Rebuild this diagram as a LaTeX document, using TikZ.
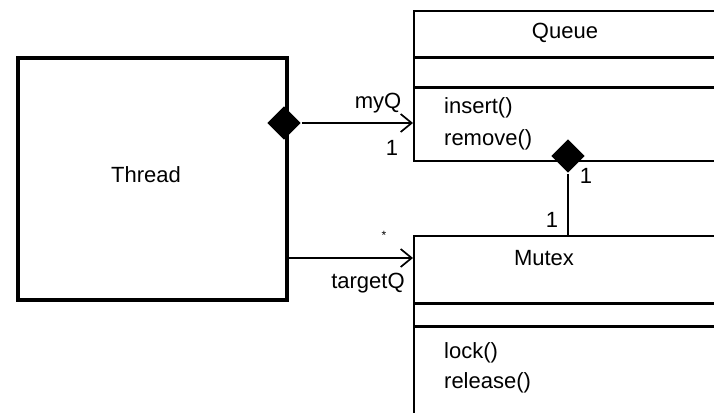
\documentclass[tikz,border=0pt]{standalone}
\usepackage{fontspec}
\setmainfont{Liberation Sans}
\usetikzlibrary{arrows.meta,shapes.geometric,positioning}

\begin{document}
\begin{tikzpicture}[x=1pt,y=-1pt,line width=1.7pt,
  >={Straight Barb[length=11pt,width=18pt,line width=1.7pt]},
  every node/.style={font=\fontsize{22}{26}\selectfont},
  compart/.style={draw,line width=1.7pt,minimum width=330pt,inner sep=0pt,anchor=north west},
  agg/.style={diamond,fill=black,minimum width=34pt,minimum height=34pt,inner sep=0pt}]
  \useasboundingbox (0,0) rectangle (714,412);
  \clip (0,0) rectangle (714,412);
  % --- Thread ---
  \node[draw,line width=4pt,minimum width=269pt,minimum height=242pt,anchor=north west] (thread) at (16,56) {};
  \node (ttext) at (146,175) {Thread};
  % --- Queue ---
  \node[compart,minimum height=46pt] (qname) at (413,10) {};
  \node[compart,minimum height=28pt] (qattr) at (qname.south west) {};
  \node[compart,minimum height=73pt] (qops) at (qattr.south west) {};
  \node (qtext) at (565,33) {Queue};
  \node[anchor=west] (ins) at (440,108) {insert()};
  \node[anchor=west] (rem) at (440,140) {remove()};
  % --- Mutex ---
  \node[compart,minimum height=67pt] (mname) at (413,235) {};
  \node[compart,minimum height=21pt] (mattr) at (mname.south west) {};
  \node[compart,minimum height=87pt] (mops) at (mattr.south west) {};
  \node (mtext) at (544,258) {Mutex};
  \node[anchor=west] (lock) at (440,353) {lock()};
  \node[anchor=west] (rel) at (440,383) {release()};
  % aggregations
  \node[agg] (dt) at (284,123) {};
  \node[agg] (dm) at (568,156) {};
  % vectores
  \draw[->] (dt) -- (dt -| qops.west);
  \draw[->] (thread.east |- mtext) -- (mname.west |- mtext);
  \draw (dm) -- (dm |- mname.north);
  % multiplicidades
  \node (myq) at (378,103) {myQ};
  \node (one1) at (392,148) {1};
  \node[font=\fontsize{12}{12}\selectfont] (many) at (384,235) {*};
  \node (tgq) at (368,283) {targetQ};
  \node (one2) at (586,176) {1};
  \node (one3) at (552,220) {1};
\end{tikzpicture}
\end{document}
